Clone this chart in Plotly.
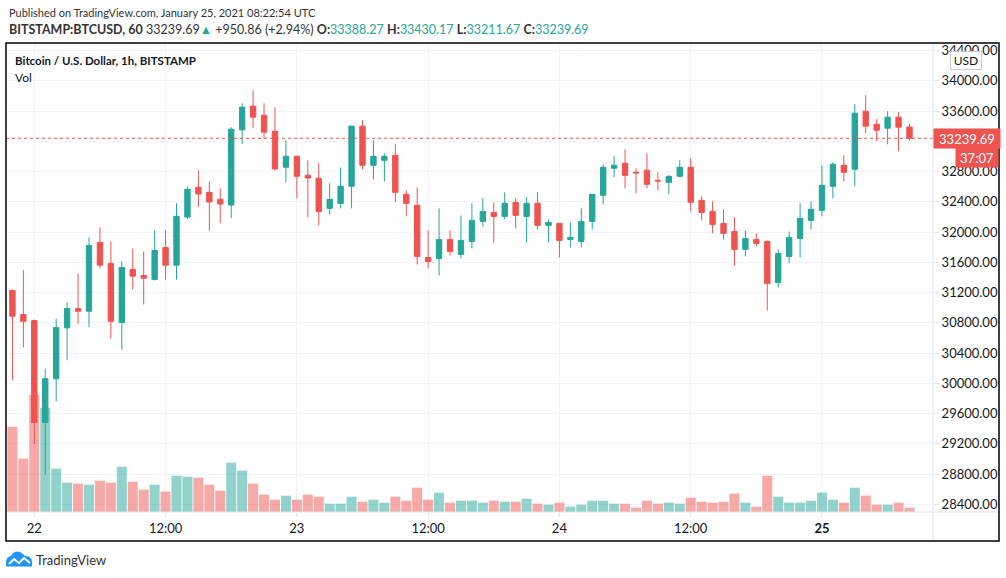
import pandas as pd
import plotly.graph_objects as go

# ------------------------------------------------------------------------------------------------
# BTCUSD 1h candles, Bitstamp, 2021-01-21 22:00 .. 2021-01-25 08:00 UTC
first_bar = "2021-01-21 22:00"

opens = [31227, 30909, 30829, 29482, 30061, 30734, 30988, 30953, 31863, 31584,
         30803, 31505, 31425, 31372, 31796, 31562, 32198, 32591, 32525, 32432,
         32357, 33351, 33665, 33545, 33333, 32857, 33002, 32750, 32711, 32313,
         32379, 32605, 33400, 32883, 32949, 33015, 32499, 32353, 31664, 31651,
         31902, 31704, 31876, 32141, 32260, 32207, 32393, 32207, 32380, 32088,
         32115, 31902, 31876, 32141, 32486, 32843, 32909, 32790, 32817, 32684,
         32658, 32737, 32856, 32419, 32273, 32115, 32008, 31770, 31902, 31876,
         31333, 31677, 31916, 32154, 32287, 32605, 32883, 32830, 33598, 33426,
         33373, 33519, 33388.27]
highs = [31240, 31496, 30842, 30193, 30855, 31068, 31452, 31929, 32061, 31876,
         31611, 31783, 31743, 32022, 32022, 32380, 32605, 32817, 32671, 32578,
         33386, 33704, 33877, 33704, 33651, 33214, 33010, 32949, 32910, 32645,
         32856, 33400, 33479, 33214, 33042, 33161, 32552, 32591, 32022, 32313,
         32022, 32220, 32380, 32446, 32393, 32525, 32446, 32459, 32525, 32168,
         32120, 32128, 32313, 32499, 32896, 33002, 33095, 32843, 33042, 32790,
         32750, 32949, 32976, 32472, 32406, 32300, 32194, 32022, 31982, 31889,
         31770, 32008, 32380, 32406, 32883, 32923, 33016, 33691, 33810, 33492,
         33598, 33585, 33430.17]
lows = [30039, 30476, 29199, 28789, 29760, 30304, 30789, 30741, 31518, 30591,
        30445, 31240, 31041, 31359, 31372, 31372, 32172, 32331, 32013, 32119,
        32185, 33166, 33373, 33228, 32810, 32658, 32446, 32194, 32088, 32234,
        32313, 32313, 32830, 32697, 32671, 32393, 32207, 31571, 31518, 31425,
        31690, 31651, 31783, 32075, 31863, 32168, 32048, 31863, 32035, 31863,
        31664, 31796, 31796, 32035, 32366, 32724, 32578, 32512, 32578, 32552,
        32499, 32724, 32273, 32154, 31982, 31903, 31558, 31677, 31810, 30962,
        31266, 31584, 31664, 32035, 32207, 32446, 32671, 32605, 33307, 33201,
        33161, 33068, 33211.67]
closes = [30887, 30820, 29482, 30061, 30737, 30988, 30953, 31823, 31562, 30820,
          31531, 31417, 31390, 31757, 31562, 32207, 32565, 32503, 32397, 32371,
          33360, 33651, 33519, 33320, 32834, 33002, 32737, 32715, 32273, 32432,
          32605, 33400, 32883, 33002, 33002, 32525, 32379, 31677, 31611, 31902,
          31743, 31889, 32154, 32273, 32207, 32380, 32221, 32380, 32088, 32128,
          31889, 31929, 32141, 32499, 32856, 32883, 32750, 32782, 32631, 32675,
          32737, 32856, 32393, 32260, 32101, 31982, 31770, 31916, 31850, 31320,
          31717, 31929, 32181, 32300, 32618, 32896, 32790, 33572, 33400, 33347,
          33519, 33387, 33239.69]
volumes = [2048, 1280, 2816, 2504, 1040, 704, 680, 656, 752, 704,
           1088, 728, 536, 656, 488, 872, 848, 824, 656, 512,
           1184, 992, 680, 416, 296, 392, 296, 416, 368, 200,
           200, 368, 248, 296, 224, 368, 272, 584, 296, 464,
           224, 272, 272, 224, 272, 248, 248, 320, 200, 176,
           224, 128, 176, 272, 272, 200, 200, 104, 272, 200,
           224, 200, 344, 248, 224, 248, 440, 224, 128, 872,
           368, 224, 224, 272, 464, 296, 224, 584, 392, 176,
           176, 224, 104]

x_ticks = ["2021-01-22 00:00", "2021-01-22 12:00", "2021-01-23 00:00", "2021-01-23 12:00",
           "2021-01-24 00:00", "2021-01-24 12:00", "2021-01-25 00:00"]
x_labels = ["22", "12:00", "23", "12:00", "24", "12:00", "<b>25</b>"]
price_ticks = list(range(28400, 34401, 400))

last_price = 33239.69
countdown = "37:07"

UP = "#26a69a"
DOWN = "#ef5350"
UP_VOL = "rgba(38,166,154,0.5)"
DOWN_VOL = "rgba(239,83,80,0.5)"
GRID = "#f0f3fa"
AXIS_LINE = "#e0e3eb"
TEXT = "#131722"
FONT = "Lato, sans-serif"

# ------------------------------------------------------------------------------------------------
# pixel helpers: margins so the plot area is the chart pane of the screenshot
FIG_W, FIG_H = 1006, 578
M_L, M_R, M_T, M_B = 6, 73, 43, 66
PLOT_W = FIG_W - M_L - M_R
PLOT_H = FIG_H - M_T - M_B


def px_x(x):
    return (x - M_L) / PLOT_W


def px_y(y):
    return (FIG_H - M_B - y) / PLOT_H


def px_path(points, close=True):
    s = "M " + " L ".join("%.5f,%.5f" % (px_x(a), px_y(b)) for a, b in points)
    return s + (" Z" if close else "")


def main():
    times = pd.date_range(first_bar, periods=len(opens), freq="h")
    vol_colors = [UP_VOL if c >= o else DOWN_VOL for o, c in zip(opens, closes)]

    # x range: 34.3px = Jan 22 00:00, 10.94 px per hour
    t0 = pd.Timestamp("2021-01-22 00:00")
    x_left = t0 + pd.Timedelta(hours=(M_L - 34.3) / 10.94)
    x_right = t0 + pd.Timedelta(hours=(FIG_W - M_R - 34.3) / 10.94)

    volume = go.Bar(
        x=times, y=volumes, yaxis="y",
        marker=dict(color=vol_colors, line=dict(width=0)),
        showlegend=False, hoverinfo="skip")

    candles = go.Candlestick(
        x=times, open=opens, high=highs, low=lows, close=closes, yaxis="y2",
        increasing=dict(line=dict(color=UP, width=1), fillcolor=UP),
        decreasing=dict(line=dict(color=DOWN, width=1), fillcolor=DOWN),
        whiskerwidth=0, showlegend=False)

    fig = go.Figure(data=[volume, candles])

    shapes = [
        # last price dotted line
        dict(type="line", xref="paper", yref="y2", x0=0, x1=1, y0=last_price, y1=last_price,
             line=dict(color=DOWN, width=1, dash="dot")),
        # axis separators
        dict(type="line", xref="paper", yref="paper", x0=0, x1=px_x(999), y0=0, y1=0,
             line=dict(color=AXIS_LINE, width=1)),
        dict(type="line", xref="paper", yref="paper", x0=1, x1=1, y0=px_y(541), y1=1,
             line=dict(color=AXIS_LINE, width=1)),
        # outer frame
        dict(type="rect", xref="paper", yref="paper", x0=px_x(6), x1=px_x(999),
             y0=px_y(541), y1=px_y(43), line=dict(color="black", width=1.5)),
        # TradingView logo
        dict(type="path", xref="paper", yref="paper",
             path=px_path([(6, 566.5), (6, 561), (7.5, 557.5), (11, 556), (13, 553), (16, 551.5),
                           (20, 552), (23, 554), (25, 556), (29, 556.5), (31.5, 559), (32, 562),
                           (32, 566.5)]),
             fillcolor="#2196f3", line=dict(width=0)),
        dict(type="path", xref="paper", yref="paper",
             path=px_path([(9, 564), (14, 559), (19, 563), (24, 558), (30, 563)], close=False),
             line=dict(color="white", width=2)),
    ]

    header2 = ("<b>BITSTAMP:BTCUSD, 60</b> 33239.69<span style='color:%s'>▲</span> "
               "+950.86 (+2.94%%) <b>O:</b><span style='color:%s'>33388.27</span> "
               "<b>H:</b><span style='color:%s'>33430.17</span> "
               "<b>L:</b><span style='color:%s'>33211.67</span> "
               "<b>C:</b><span style='color:%s'>33239.69</span>") % ((UP,) * 5)

    annotations = [
        dict(x=px_x(7), y=px_y(13), xref="paper", yref="paper", xanchor="left", yanchor="middle",
             text="Published on TradingView.com, January 25, 2021 08:22:54 UTC", showarrow=False,
             font=dict(size=11, color="#333333")),
        dict(x=px_x(7), y=px_y(29.5), xref="paper", yref="paper", xanchor="left", yanchor="middle",
             text=header2, showarrow=False, font=dict(size=12.5, color="#333333")),
        dict(x=px_x(13), y=px_y(61), xref="paper", yref="paper", xanchor="left", yanchor="middle",
             text="<b>Bitcoin / U.S. Dollar, 1h, BITSTAMP</b>", showarrow=False,
             font=dict(size=11.5, color=TEXT)),
        dict(x=px_x(13), y=px_y(77), xref="paper", yref="paper", xanchor="left", yanchor="middle",
             text="Vol", showarrow=False, font=dict(size=12, color=TEXT)),
        dict(x=1, y=last_price, xref="paper", yref="y2", xanchor="left", yanchor="middle",
             text=f"{last_price:.2f}", showarrow=False, bgcolor=DOWN, borderpad=2,
             width=62, height=15, align="center", font=dict(size=13, color="white")),
        dict(x=px_x(999), y=last_price, xref="paper", yref="y2", xanchor="right", yanchor="middle",
             yshift=-19, text=countdown, showarrow=False, bgcolor=DOWN, borderpad=2,
             width=38, height=15, align="center", font=dict(size=13, color="white")),
        dict(x=px_x(966), y=px_y(61), xref="paper", yref="paper", xanchor="center", yanchor="middle",
             text="USD", showarrow=False, bgcolor="white", bordercolor="#c8cbd3", borderwidth=1,
             borderpad=2, width=26, height=13, font=dict(size=12, color=TEXT)),
        dict(x=px_x(34), y=px_y(560), xref="paper", yref="paper", xanchor="left", yanchor="middle",
             text="TradingView", showarrow=False, font=dict(size=13, color="#333333")),
    ]

    # 33200.00 sits fully under the last-price label in the screenshot
    price_text = ["" if p == 33200 else "%.2f" % p for p in price_ticks]

    fig.update_layout(
        width=FIG_W, height=FIG_H,
        margin=dict(l=M_L, r=M_R, t=M_T, b=M_B, pad=0),
        paper_bgcolor="white", plot_bgcolor="white",
        font=dict(family=FONT, size=12, color=TEXT),
        bargap=0.08, boxgap=0.3,
        shapes=shapes, annotations=annotations,
        xaxis=dict(type="date", range=[x_left, x_right], rangeslider=dict(visible=False),
                   tickvals=x_ticks, ticktext=x_labels, showgrid=True, gridcolor=GRID,
                   ticks="outside", ticklen=4, tickcolor=AXIS_LINE, tickfont=dict(size=13),
                   zeroline=False, showline=False, fixedrange=True),
        yaxis=dict(range=[0, max(volumes) * 4.0], visible=False, showgrid=False, fixedrange=True),
        yaxis2=dict(overlaying="y", side="right", range=[28298.5, 34499.5],
                    tickvals=price_ticks, ticktext=price_text,
                    showgrid=True, gridcolor=GRID, ticks="outside", ticklen=5, tickcolor=AXIS_LINE,
                    tickfont=dict(size=13), zeroline=False, showline=False, fixedrange=True),
    )

    # page body has an 8px default margin; drop it so the figure sits at the window corner
    fig.write_html("out.html", config={"displayModeBar": False},
                   post_script="document.body.style.margin='0px';")


if __name__ == "__main__":
    main()
